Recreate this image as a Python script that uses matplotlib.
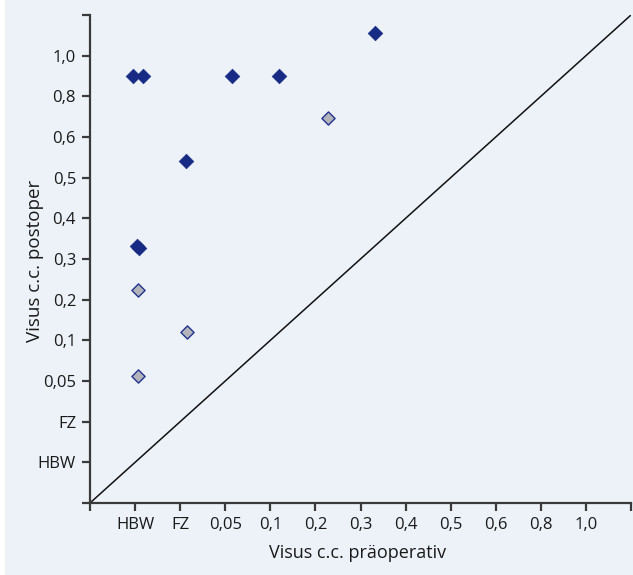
import matplotlib.pyplot as plt
from matplotlib.patches import Rectangle

# Achsenbeschriftungen (kategoriale Skala, Position 0..12)
tick_labels = ["", "HBW", "FZ", "0,05", "0,1", "0,2", "0,3", "0,4", "0,5", "0,6", "0,8", "1,0", ""]

# Augen mit deutlicher Verbesserung (dunkel)
dark_x = [0.96, 1.17, 3.16, 4.20, 6.33, 2.14, 1.05, 1.09]
dark_y = [10.51, 10.50, 10.50, 10.50, 11.56, 8.40, 6.31, 6.27]

# übrige Augen (hell)
light_x = [5.28, 1.07, 2.16, 1.07]
light_y = [9.46, 5.25, 4.21, 3.12]

bg = "#edf2f9"
axis_col = "#3a3a3a"
plt.rcParams["font.family"] = ["Open Sans", "DejaVu Sans"]

fig = plt.figure(figsize=(6.33, 5.75), dpi=100)
fig.patch.set_facecolor("white")
fig.patches.append(Rectangle((5 / 633, 0), 1, 1, transform=fig.transFigure,
                             facecolor=bg, edgecolor="none", zorder=-10))

ax = fig.add_axes([90 / 633, 72 / 575, 541 / 633, 488 / 575])
ax.set_facecolor(bg)
ax.set_xlim(0, 12)
ax.set_ylim(0, 12)

# Winkelhalbierende
ax.plot([0, 12], [0, 12], color="#111111", lw=1.1, zorder=2)

ax.scatter(light_x, light_y, marker="D", s=45, facecolor="#b3b3ba",
           edgecolor="#23348f", linewidth=1.0, zorder=3, clip_on=False)
ax.scatter(dark_x, dark_y, marker="D", s=55, facecolor="#172a84",
           edgecolor="#172a84", linewidth=0.5, zorder=4, clip_on=False)

ax.set_xticks(range(len(tick_labels)))
ax.set_xticklabels(tick_labels)
ax.set_yticks(range(len(tick_labels)))
ax.set_yticklabels(tick_labels)

for s in ["top", "right"]:
    ax.spines[s].set_visible(False)
for s in ["left", "bottom"]:
    ax.spines[s].set_color(axis_col)
    ax.spines[s].set_linewidth(1.6)

ax.tick_params(axis="both", direction="out", length=6, width=1.6,
               color=axis_col, labelsize=12, labelcolor="#1a1a1a", pad=4)

ax.set_xlabel("Visus c.c. präoperativ", fontsize=13, color="#1a1a1a")
ax.set_ylabel("Visus c.c. postoper", fontsize=13.5, color="#1a1a1a")
ax.xaxis.set_label_coords(0.494, -0.084)
ax.yaxis.set_label_coords(-0.085, 0.496)

fig.savefig("out.png", dpi=100, facecolor=fig.get_facecolor())
